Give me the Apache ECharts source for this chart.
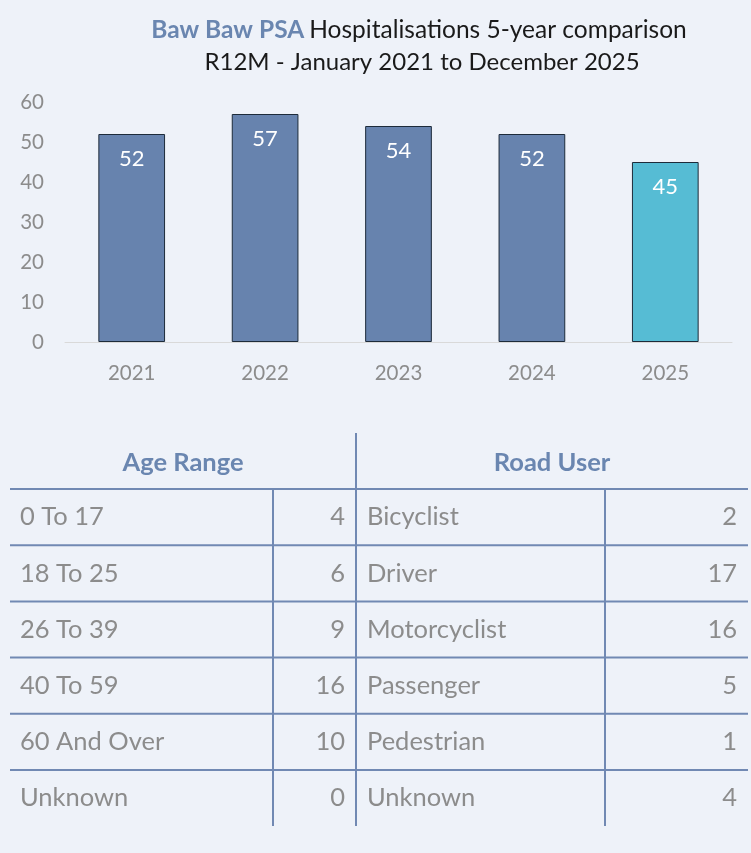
<!DOCTYPE html>
<html><head><meta charset="utf-8">
<script src="https://cdn.jsdelivr.net/npm/echarts@6/dist/echarts.min.js"></script>
<style>html,body{margin:0;padding:0;background:#eef2f9}#c{width:751px;height:853px}</style>
</head><body><div id="c"></div>
<script>
const years = ['2021','2022','2023','2024','2025'];
const hospitalisations = [52, 57, 54, 52, 45];
const yTicks = [0, 10, 20, 30, 40, 50, 60];
const ageRanges = ['0 To 17','18 To 25','26 To 39','40 To 59','60 And Over','Unknown'];
const ageCounts = [4, 6, 9, 16, 10, 0];
const roadUsers = ['Bicyclist','Driver','Motorcyclist','Passenger','Pedestrian','Unknown'];
const roadCounts = [2, 17, 16, 5, 1, 4];

const FONT = 'Lato';
const BLUE = '#6a86b0';
const GREY = '#8c8c8c';
const LINE = '#7189b3';
const TF = '25.5px ' + FONT;

const chart = echarts.init(document.getElementById('c'), null, {renderer:'canvas'});

const g = [];
const rowTop = 489, rowH = 56.2;
g.push({type:'line', shape:{x1:356,y1:433,x2:356,y2:826}, style:{stroke:LINE,lineWidth:2}});
g.push({type:'line', shape:{x1:273,y1:rowTop,x2:273,y2:826}, style:{stroke:LINE,lineWidth:2}});
g.push({type:'line', shape:{x1:605,y1:rowTop,x2:605,y2:826}, style:{stroke:LINE,lineWidth:2}});
for (let i = 0; i < ageRanges.length; i++) {
  const y = rowTop + i*rowH;
  g.push({type:'line', shape:{x1:10,y1:y,x2:748,y2:y}, style:{stroke:LINE,lineWidth:2}});
  const cy = y + rowH/2;
  g.push({type:'text', x:20, y:cy, style:{text:ageRanges[i], fill:GREY, font:TF, textVerticalAlign:'middle', textAlign:'left'}});
  g.push({type:'text', x:345, y:cy, style:{text:String(ageCounts[i]), fill:GREY, font:TF, textVerticalAlign:'middle', textAlign:'right'}});
  g.push({type:'text', x:367, y:cy, style:{text:roadUsers[i], fill:GREY, font:TF, textVerticalAlign:'middle', textAlign:'left'}});
  g.push({type:'text', x:737, y:cy, style:{text:String(roadCounts[i]), fill:GREY, font:TF, textVerticalAlign:'middle', textAlign:'right'}});
}
g.push({type:'text', x:183, y:463, style:{text:'Age Range', fill:BLUE, font:'bold 25.5px '+FONT, textVerticalAlign:'middle', textAlign:'center'}});
g.push({type:'text', x:552, y:463, style:{text:'Road User', fill:BLUE, font:'bold 25.5px '+FONT, textVerticalAlign:'middle', textAlign:'center'}});

chart.setOption({
  backgroundColor:'#eef2f9',
  animation:false,
  title:[
    {text:'{a|Baw Baw PSA} {b|Hospitalisations 5-year comparison}', left:414, top:13, textAlign:'center',
     textStyle:{fontWeight:'normal', rich:{a:{fontFamily:FONT,fontSize:24.5,fontWeight:'bold',color:BLUE},b:{fontFamily:FONT,fontSize:24.5,fontWeight:'normal',color:'#1a1a1a'}}}},
    {text:'R12M - January 2021 to December 2025', left:417, top:45, textAlign:'center',
     textStyle:{fontFamily:FONT,fontSize:24,fontWeight:'normal',color:'#1a1a1a'}}
  ],
  grid:{left:65, right:19, top:102, bottom:511},
  xAxis:{type:'category', data:years,
    axisLine:{lineStyle:{color:'#d9d9d9'}}, axisTick:{show:false},
    axisLabel:{color:GREY, fontFamily:FONT, fontSize:20.5, margin:21}},
  yAxis:{type:'value', min:yTicks[0], max:yTicks[yTicks.length-1], interval:10,
    splitLine:{show:false}, axisLine:{show:false}, axisTick:{show:false},
    axisLabel:{color:GREY, fontFamily:FONT, fontSize:20.5, margin:21}},
  series:[{type:'bar', barWidth:'50%',
    data: hospitalisations.map((v,i)=>({value:v, itemStyle:{color: i===hospitalisations.length-1 ? '#56bcd4' : '#6783ae'}})),
    itemStyle:{borderColor:'#1d2b3a', borderWidth:1},
    label:{show:true, position:'insideTop', distance:14, color:'#ffffff', fontFamily:FONT, fontSize:22}
  }],
  graphic: g
});
</script></body></html>
